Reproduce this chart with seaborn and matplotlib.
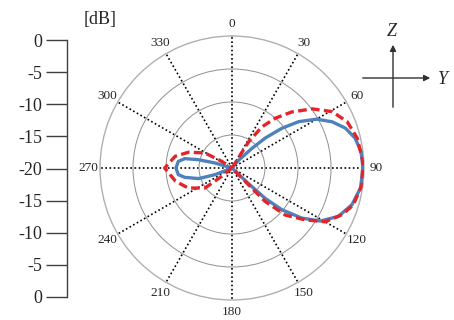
import numpy as np
import pandas as pd
import matplotlib
matplotlib.use("Agg")
import matplotlib.pyplot as plt
import seaborn as sns

# blue (solid) pattern, angle in degrees (clockwise from Z), level in dB
blue_deg = [0, 37, 40, 45.4, 48, 51.5, 55.2, 60, 65.2, 70.6, 76.4, 82.8, 90, 98.9,
            107, 114.5, 121, 125.7, 130, 132.5, 133.5, 135,
            246, 248.5, 252.4, 258.8, 263, 270, 277, 281.2, 283.8, 286.4, 290, 360]
blue_db = [-20, -20, -18.5, -15.8, -13.2, -10.3, -7.7, -5.2, -3.3, -1.8, -0.8, -0.3,
           -0.15, -0.3, -1.0, -2.3, -4.4, -7.0, -10.2, -13.2, -16.6, -20,
           -20, -17.3, -14.7, -12.7, -11.8, -11.5, -11.8, -12.7, -14.7, -17.3, -20, -20]

# red (dashed) pattern
red_deg = [0, 30, 32.4, 36, 41, 46.8, 53.6, 60.6, 68, 76.6, 87, 97.5, 107,
           113, 120, 125.3, 131.4, 135.3, 135.5, 138,
           228, 231, 233.5, 245.4, 256.9, 270, 281.6, 290, 299, 303, 306, 360]
red_db = [-20, -20, -15.3, -12.3, -10.0, -7.6, -4.9, -2.6, -1.2, -0.5, -0.15,
          -0.15, -0.8, -1.9, -3.7, -6.4, -9.2, -12.9, -16.4, -20,
          -20, -18.0, -14.9, -12.7, -11.2, -9.8, -11.2, -13.0, -15.3, -18.1, -20, -20]

angle_ticks = list(range(0, 360, 30))
angle_labels = [str(a) for a in angle_ticks]
ring_levels = [-15, -10, -5]
scale_labels = ["0", "-5", "-10", "-15", "-20", "-15", "-10", "-5", "0"]

sns.set_style("white")
plt.rcParams["font.family"] = ["Liberation Serif", "DejaVu Serif"]

fig = plt.figure(figsize=(4.54, 3.2), dpi=100)

# polar chart
ax = fig.add_axes([0.2203, 0.0625, 0.5815, 0.825], projection="polar")
ax.set_theta_zero_location("N")
ax.set_theta_direction(-1)

blue = pd.DataFrame({"theta": np.deg2rad(blue_deg), "db": blue_db})
red = pd.DataFrame({"theta": np.deg2rad(red_deg), "db": red_db})

sns.lineplot(data=blue, x="theta", y="db", ax=ax, sort=False, estimator=None,
             color="#4f81bd", linewidth=2.4, zorder=3)
sns.lineplot(data=red, x="theta", y="db", ax=ax, sort=False, estimator=None,
             color="#e3242b", linewidth=2.4, zorder=4)
ax.lines[-1].set_dashes([2.6, 1.3])

ax.set_ylim(-20, 0)
ax.set_yticks(ring_levels)
ax.set_yticklabels([])
ax.set_xticks(np.deg2rad(angle_ticks))
ax.set_xticklabels(angle_labels, fontsize=9.5)
ax.tick_params(axis="x", pad=-2)
ax.xaxis.grid(True, color="black", linestyle=(0, (1, 1.5)), linewidth=1.2)
ax.yaxis.grid(True, color="#909090", linestyle="-", linewidth=0.7)
ax.spines["polar"].set_color("#b0b0b0")
ax.spines["polar"].set_linewidth(1.0)
ax.set_xlabel("")
ax.set_ylabel("")

# left dB scale
ax2 = fig.add_axes([0.1476, 0.0719, 0.02, 0.803])
ax2.set_ylim(8, 0)
ax2.set_yticks(range(len(scale_labels)))
ax2.set_yticklabels(scale_labels, fontsize=13)
ax2.set_xticks([])
for s in ["top", "right", "bottom"]:
    ax2.spines[s].set_visible(False)
ax2.spines["left"].set_color("#404040")
ax2.spines["left"].set_linewidth(1.0)
ax2.tick_params(axis="y", direction="out", length=15, width=1.0,
                color="#404040", pad=3, left=True)
ax2.patch.set_alpha(0)
fig.text(0.22, 0.94, "[dB]", fontsize=13, ha="center", va="center")

# Z / Y orientation sign
fig.add_artist(matplotlib.patches.FancyArrowPatch(
    (393 / 454, 1 - 110 / 320), (393 / 454, 1 - 42 / 320),
    transform=fig.transFigure, arrowstyle="-|>", mutation_scale=9,
    color="#303030", linewidth=1.0))
fig.add_artist(matplotlib.patches.FancyArrowPatch(
    (360 / 454, 1 - 78 / 320), (433 / 454, 1 - 78 / 320),
    transform=fig.transFigure, arrowstyle="-|>", mutation_scale=9,
    color="#303030", linewidth=1.0))
fig.text(392 / 454, 1 - 31 / 320, "Z", fontsize=13, style="italic",
         ha="center", va="center")
fig.text(443 / 454, 1 - 79 / 320, "Y", fontsize=13, style="italic",
         ha="center", va="center")

fig.savefig("out.png", dpi=100)
